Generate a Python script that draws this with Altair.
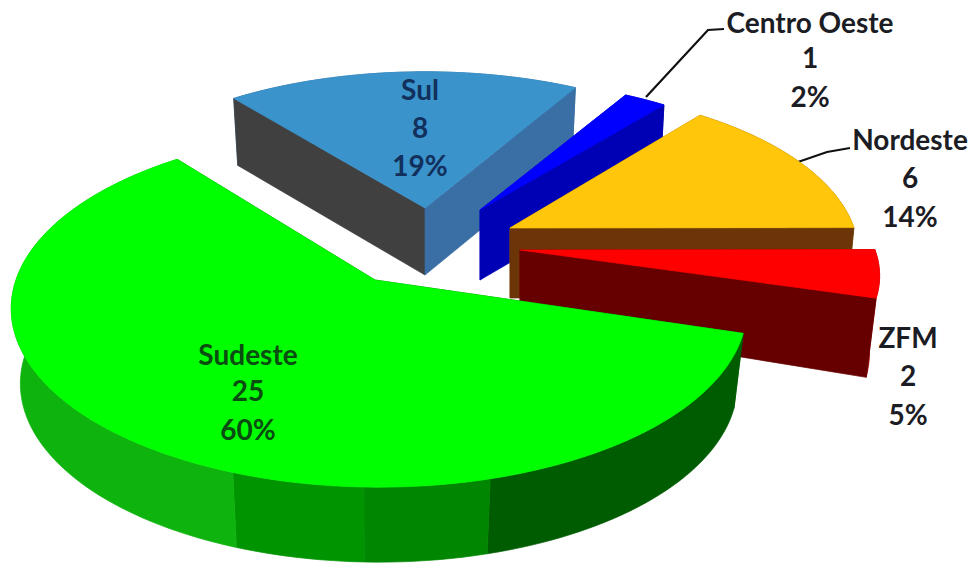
import altair as alt
import numpy as np

# Slice data, in clockwise drawing order
regions = ["Sudeste", "Sul", "Centro Oeste", "Nordeste", "ZFM"]
counts = [25, 8, 1, 6, 2]

# Face colours per slice
top_colors = ["#00ff00", "#3b93cc", "#0000ff", "#ffc60a", "#ff0000"]
left_cut_colors = ["#005c00", "#404040", "#0000c8", "#a86a00", "#800000"]
right_cut_colors = ["#005c00", "#3a6fa5", "#0000b4", "#6b3508", "#660000"]
rim_colors = ["#0eb30e", "#2f6a9c", "#000090", "#8a5a00", "#a00000"]

# Explosion anchor and ellipse shape of every slice, in pixels
apex_x = [375, 425, 480, 510, 520]
apex_y = [280, 208, 210, 228, 250]
rim_shift = [4, 0, 0, 0, 0]
radius_x = [363, 344, 333, 344, 355]
radius_y = [174, 158, 151, 162, 157]
depth = [75, 67, 70, 70, 71]
base_shrink = [0.975, 0.979, 0.98, 0.98, 0.972]
base_stretch = [1.0, 1.0, 1.0, 1.0, 1.17]

# Shaded bands along the front wall of the largest slice: (angle limit, colour)
front_bands = [(75, "#005c00"), (92, "#008600"), (110, "#009400"), (232, "#0eb30e")]

START_ANGLE = 17.0
PERSPECTIVE = 0.16

# Text placement, in pixels, for the three lines of each label
label_x = [248, 420, 810, 910, 908]
label_y = [[357, 393, 432], [92, 130, 168], [25, 60, 99], [142, 180, 219], [340, 378, 417]]
label_colors = ["#0a4d10", "#12305c", "#1c1c24", "#1c1c24", "#1c1c24"]
leaders = [
    [(646, 97), (708, 30), (724, 29)],
    [(798, 162), (827, 152), (850, 148)],
]

total = sum(counts)
sweeps = [c / total * 360 for c in counts]


def rim_point(i, deg, base=False):
    t = np.radians(deg)
    x, y = np.cos(t), np.sin(t)
    f = 1 / (1 - PERSPECTIVE * y)
    px, py = radius_x[i] * x * f + rim_shift[i], radius_y[i] * y * f
    if base:
        px, py = px * base_shrink[i], py * base_stretch[i] + depth[i]
    return [float(apex_x[i] + px), float(apex_y[i] + py)]


def arc(i, a0, a1, base=False):
    n = max(int(abs(a1 - a0) / 1.5), 2)
    return [rim_point(i, d, base) for d in np.linspace(a0, a1, n)]


def polygon(points, color):
    ring = list(points) + [points[0]]
    return {
        "type": "Feature",
        "properties": {"fill": color},
        "geometry": {"type": "Polygon", "coordinates": [ring]},
    }


def cut_face(i, deg, color):
    top_apex = [apex_x[i], apex_y[i]]
    base_apex = [apex_x[i], apex_y[i] + depth[i]]
    return polygon([top_apex, rim_point(i, deg), rim_point(i, deg, True), base_apex], color)


def wall(i, a0, a1, color):
    return polygon(arc(i, a0, a1) + arc(i, a1, a0, True), color)


# Angular span of each slice
spans = []
angle = START_ANGLE
for s in sweeps:
    spans.append((angle, angle + s))
    angle += s

# Painter's order: rear slices first, the large front slice last
features = []
for i in [1, 2, 3, 4, 0]:
    a0, a1 = spans[i]
    if i == 0:
        # The cut faces of the front slice look away from the viewer, so its wall goes over them
        features.append(cut_face(i, a0, left_cut_colors[i]))
        features.append(cut_face(i, a1, right_cut_colors[i]))
        lo = a0
        for limit, color in front_bands:
            hi = min(limit, a1)
            features.append(wall(i, lo, hi, color))
            lo = hi
    else:
        features.append(wall(i, a0, a1, rim_colors[i]))
        features.append(cut_face(i, a0, left_cut_colors[i]))
        features.append(cut_face(i, a1, right_cut_colors[i]))
    features.append(polygon([[apex_x[i], apex_y[i]]] + arc(i, a0, a1), top_colors[i]))

leader_features = [
    {
        "type": "Feature",
        "properties": {},
        "geometry": {"type": "LineString", "coordinates": [list(p) for p in line]},
    }
    for line in leaders
]

label_rows = []
for i, name in enumerate(regions):
    pct = f"{round(counts[i] / total * 100)}%"
    for text, y in zip([name, str(counts[i]), pct], label_y[i]):
        label_rows.append({"lon": label_x[i], "lat": y, "text": text, "color": label_colors[i]})

# Identity projection: GeoJSON coordinates are already screen pixels
projection = dict(type="identity", scale=1, translate=[0, 0])

faces = (
    alt.Chart(alt.Data(values=features))
    .mark_geoshape(strokeWidth=0.7)
    .encode(
        fill=alt.Fill("properties.fill:N", scale=None),
        stroke=alt.Stroke("properties.fill:N", scale=None),
    )
    .project(**projection)
)

lines = (
    alt.Chart(alt.Data(values=leader_features))
    .mark_geoshape(filled=False, stroke="#111111", strokeWidth=2.2)
    .project(**projection)
)

labels = (
    alt.Chart(alt.Data(values=label_rows))
    .mark_text(font="Lato", fontSize=28, fontWeight="bold", align="center", baseline="middle")
    .encode(
        longitude="lon:Q",
        latitude="lat:Q",
        text="text:N",
        color=alt.Color("color:N", scale=None),
    )
    .project(**projection)
)

chart = (
    alt.layer(lines, faces, labels)
    .properties(
        width=973,
        height=564,
        padding=0,
        background="white",
        autosize=alt.AutoSizeParams(type="none"),
    )
    .configure_view(stroke=None)
)

chart.save("out.html", embed_options={"renderer": "svg", "actions": False})
